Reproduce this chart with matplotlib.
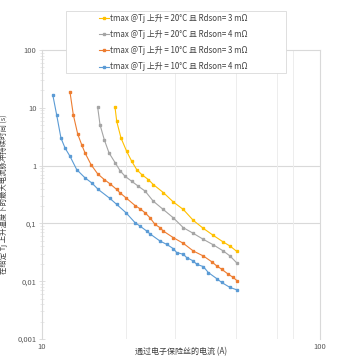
import matplotlib
matplotlib.use("Agg")
import matplotlib.pyplot as plt
from matplotlib.ticker import FixedLocator, NullFormatter, FixedFormatter
from matplotlib.patches import Rectangle

plt.rcParams['font.family'] = ['Noto Sans CJK SC', 'DejaVu Sans']

# Series: current (A) vs max pulse duration (s)
labels = [
    "tmax @Tj 上升 = 20°C 且 Rdson= 3 mΩ",
    "tmax @Tj 上升 = 20°C 且 Rdson= 4 mΩ",
    "tmax @Tj 上升 = 10°C 且 Rdson= 3 mΩ",
    "tmax @Tj 上升 = 10°C 且 Rdson= 4 mΩ",
]
colors = ["#FFC000", "#A5A5A5", "#ED7D31", "#5B9BD5"]

x_y20_3 = [18.31, 18.57, 19.24, 20.17, 21.02, 21.91, 22.84, 24.12, 25.14, 27.31,
           29.67, 32.24, 35.02, 38.05, 41.32, 44.89, 47.46, 50.15]
t_y20_3 = [10.2, 5.81, 3.00, 1.76, 1.19, 0.853, 0.70, 0.574, 0.470, 0.342,
           0.235, 0.174, 0.1127, 0.082, 0.0621, 0.0476, 0.0406, 0.0329]

x_g20_4 = [15.86, 16.17, 16.75, 17.42, 18.31, 19.08, 19.89, 21.02, 22.20, 23.48,
           25.14, 27.31, 29.67, 32.24, 35.02, 38.05, 41.32, 44.89, 47.46, 50.15]
t_g20_4 = [10.2, 5.09, 2.81, 1.66, 1.13, 0.820, 0.654, 0.536, 0.440, 0.363,
           0.242, 0.174, 0.125, 0.0843, 0.0672, 0.053, 0.0426, 0.0333, 0.0273, 0.0208]

x_o10_3 = [12.61, 12.96, 13.44, 13.89, 14.28, 15.01, 15.86, 16.75, 17.56, 18.57,
           19.08, 20.05, 21.61, 22.52, 23.48, 24.46, 25.50, 26.58, 27.31, 29.67,
           32.24, 35.02, 38.05, 40.79, 42.50, 44.3, 46.79, 48.77, 50.40]
t_o10_3 = [18.7, 7.57, 3.52, 2.30, 1.66, 1.04, 0.719, 0.574, 0.484, 0.386,
           0.338, 0.277, 0.204, 0.179, 0.153, 0.125, 0.0961, 0.0843, 0.0737, 0.0567,
           0.0452, 0.0333, 0.0273, 0.0217, 0.0184, 0.0161, 0.0132, 0.0116, 0.0101]

x_b10_4 = [10.93, 11.29, 11.70, 12.10, 12.61, 13.33, 14.28, 15.09, 15.94, 17.56,
           18.57, 20.05, 21.61, 22.52, 23.81, 24.46, 26.58, 28.09, 29.67, 30.52,
           32.24, 33.16, 35.02, 36.02, 38.05, 39.66, 42.50, 44.3, 47.46, 50.15]
t_b10_4 = [16.9, 7.57, 3.00, 2.02, 1.45, 0.853, 0.614, 0.503, 0.386, 0.270,
           0.213, 0.153, 0.103, 0.0898, 0.0737, 0.0659, 0.0495, 0.0434, 0.0366, 0.0313,
           0.0292, 0.0256, 0.0224, 0.0196, 0.0179, 0.0141, 0.0111, 0.0095, 0.0078, 0.0071]

series_x = [x_y20_3, x_g20_4, x_o10_3, x_b10_4]
series_t = [t_y20_3, t_g20_4, t_o10_3, t_b10_4]

y_ticks = [0.001, 0.01, 0.1, 1, 10, 100]
y_ticklabels = ["0,001", "0,01", "0,1", "1", "10", "100"]
x_ticks = [10, 100]
x_ticklabels = ["10", "100"]

W, H = 342, 362
fig = plt.figure(figsize=(W / 100, H / 100), dpi=100)
ax = fig.add_axes([42/W, 1-339/H, (320-42)/W, (339-50)/H])
ax.set_xscale('log')
ax.set_yscale('log')
ax.set_xlim(10, 100)
ax.set_ylim(0.001, 100)

# gridlines
for gy in [1, 0.1]:
    ax.axhline(gy, color='#D9D9D9', lw=0.8, zorder=0)
for gx in [20, 30, 50, 70, 80]:
    ax.axvline(gx, color='#EDEDED', lw=0.7, zorder=0)

for xs, ts, c, lab in zip(series_x, series_t, colors, labels):
    ax.plot(xs, ts, color=c, lw=0.8, marker='s', ms=1.6, mec=c, mfc=c, label=lab)

for s in ['top', 'right', 'left']:
    ax.spines[s].set_color('#D9D9D9')
    ax.spines[s].set_linewidth(0.8)
ax.spines['bottom'].set_visible(False)

ax.yaxis.set_major_locator(FixedLocator(y_ticks))
ax.yaxis.set_major_formatter(FixedFormatter(y_ticklabels))
ax.yaxis.set_minor_locator(FixedLocator([v * m for v in [0.001, 0.01, 0.1, 1, 10] for m in range(2, 10)]))
ax.yaxis.set_minor_formatter(NullFormatter())
ax.xaxis.set_major_locator(FixedLocator(x_ticks))
ax.xaxis.set_major_formatter(FixedFormatter(x_ticklabels))
ax.xaxis.set_minor_locator(FixedLocator([]))

ax.tick_params(axis='y', which='major', length=4, width=0.6, color='#D9D9D9', direction='inout',
               labelsize=5.5, labelcolor='#595959', pad=2)
ax.tick_params(axis='y', which='minor', length=3, width=0.5, color='#E0E0E0', direction='inout')
ax.tick_params(axis='x', which='major', length=0, labelsize=5.5, labelcolor='#595959', pad=3)

ax.set_ylabel("在给定 Tj 上升温度下的最大电流脉冲持续时间 (s)", fontsize=5.3, color='#404040', labelpad=7)
ax.set_xlabel("通过电子保险丝的电流 (A)", fontsize=5.8, color='#404040', labelpad=-3)

# legend box
fig.patches.append(Rectangle((66/W, 1-73/H), (286-66)/W, (73-11)/H, transform=fig.transFigure,
                             facecolor='white', edgecolor='#D9D9D9', lw=0.6, zorder=5))
leg = fig.legend(loc='upper left', bbox_to_anchor=(99/W, 1-14/H), fontsize=5.7,
                 frameon=False, handlelength=1.2, handletextpad=0.15,
                 labelspacing=0.9, borderpad=0, borderaxespad=0)
leg.set_zorder(6)
for t in leg.get_texts():
    t.set_color('#404040')

fig.savefig("out.png", dpi=100)
